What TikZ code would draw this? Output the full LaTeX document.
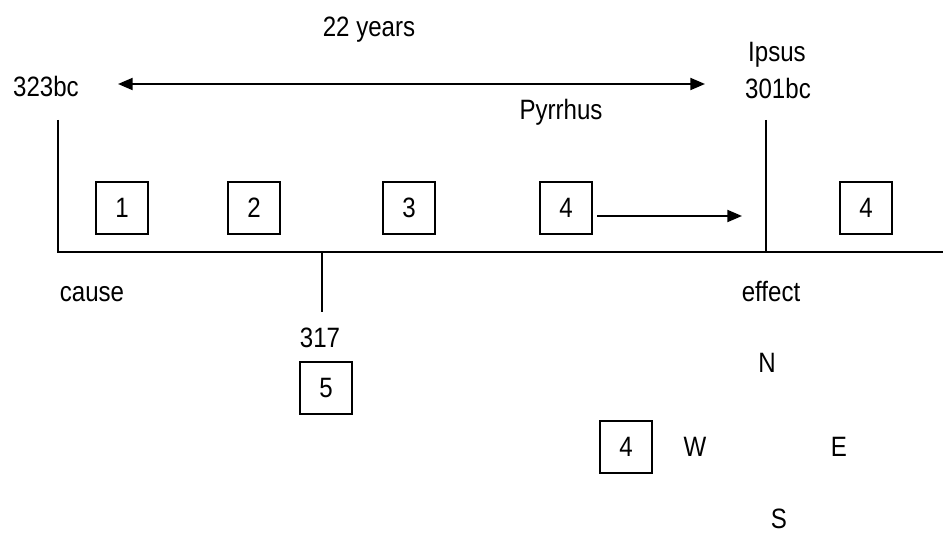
\documentclass[tikz,border=0pt]{standalone}
\usepackage{fontspec}
\setmainfont{Liberation Sans}[FakeStretch=0.86]
\usetikzlibrary{arrows.meta}
\begin{document}
\begin{tikzpicture}[x=0.75pt,y=-0.75pt,
  every node/.style={font=\fontsize{21}{24}\selectfont, inner sep=0pt},
  lbl/.style={anchor=base},
  numbox/.style={draw, line width=1.5pt, minimum width=39pt, minimum height=39pt},
  ln/.style={line width=1.5pt},
  arr/.style={line width=1.5pt, -{Triangle[length=11pt,width=9pt]}},
  darr/.style={line width=1.5pt, {Triangle[length=11pt,width=9pt]}-{Triangle[length=11pt,width=9pt]}}]
\useasboundingbox (0,0) rectangle (943,534);
% labels
\node[lbl] (years) at (369,37) {22 years};
\node[lbl] (bc323) at (46,97) {323bc};
\node[lbl] (ipsus) at (777,62) {Ipsus};
\node[lbl] (bc301) at (778,99) {301bc};
\node[lbl] (pyrrhus) at (561,120) {Pyrrhus};
\node[lbl] (cause) at (92,302) {cause};
\node[lbl] (effect) at (771,302) {effect};
\node[lbl] (y317) at (320,348) {317};
\node[lbl] (N) at (767,373) {N};
\node[lbl] (W) at (695,457) {W};
\node[lbl] (E) at (839,457) {E};
\node[lbl] (S) at (779,528) {S};
% boxes
\node[numbox] (b1) at (122,208) {1};
\node[numbox] (b2) at (254,208) {2};
\node[numbox] (b3) at (409,208) {3};
\node[numbox] (b4) at (566,208) {4};
\node[numbox] (b4r) at (866,208) {4};
\node[numbox] (b5) at (326,388) {5};
\node[numbox] (b4c) at (626,447) {4};
% coordinates
\coordinate (dl) at (118,84);
\coordinate (dr) at (705,84);
\coordinate (lt) at (58,120);
\coordinate (rt) at (766,120);
\coordinate (lb) at (58,252);
\coordinate (rb) at (766,252);
\coordinate (re) at (943,252);
\coordinate (tk) at (322,252);
\coordinate (tkb) at (322,312);
\coordinate (a0) at (597,216);
\coordinate (a1) at (742,216);
% lines
\draw[darr] (dl) -- (dr);
\draw[ln] (lt) -- (lb) -- (re);
\draw[ln] (rt) -- (rb);
\draw[ln] (tk) -- (tkb);
\draw[arr] (a0) -- (a1);
\end{tikzpicture}
\end{document}
